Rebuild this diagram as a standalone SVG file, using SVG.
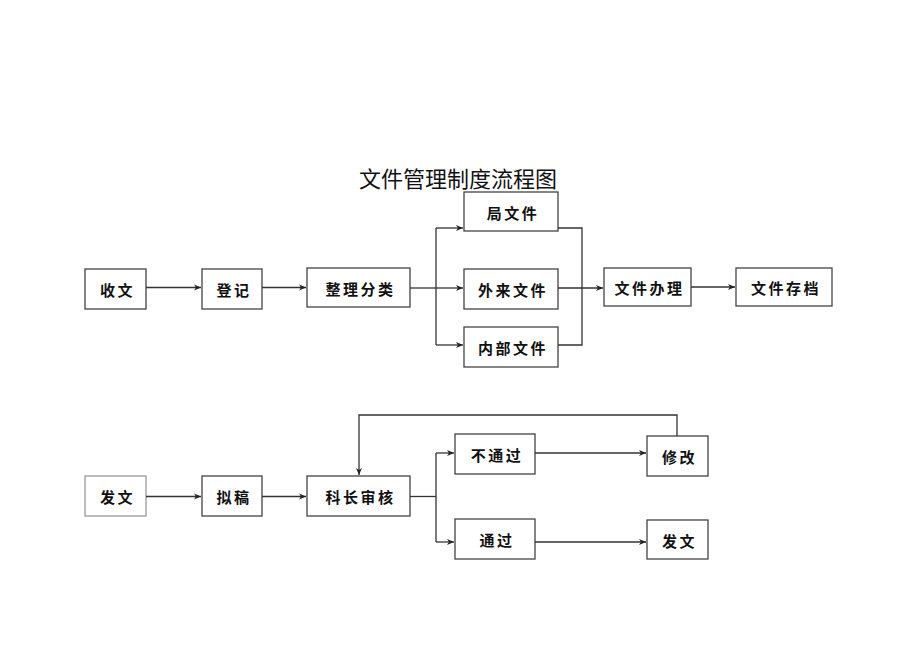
<svg xmlns="http://www.w3.org/2000/svg" width="920" height="651" viewBox="0 0 920 651">
<defs>
<marker id="ah" markerWidth="8" markerHeight="8" refX="7" refY="4" orient="auto" markerUnits="userSpaceOnUse">
<path d="M0,1 L7,4 L0,7 L2,4 Z" fill="#222"/>
</marker>
</defs>
<style>
.box{fill:#fff;stroke:#444;stroke-width:1.3}
.box.light{stroke:#999}
.lbl{font-family:"Noto Sans CJK SC","Noto Sans CJK JP",sans-serif;font-size:15px;font-weight:bold;fill:#111;text-anchor:middle;dominant-baseline:central;letter-spacing:2.5px}
.title{font-family:"Noto Sans CJK SC","Noto Sans CJK JP",sans-serif;font-size:22px;fill:#111;text-anchor:middle;dominant-baseline:central}
.c{fill:none;stroke:#333;stroke-width:1.3}
.a{marker-end:url(#ah)}
</style>
<rect width="920" height="651" fill="#fff"/>
<text class="title" x="458" y="177">文件管理制度流程图</text>

<g id="n-shouwen"><rect class="box" x="85" y="269" width="61" height="40"/><text class="lbl" x="117.5" y="289">收文</text></g>
<g id="n-dengji"><rect class="box" x="202" y="269" width="60" height="40"/><text class="lbl" x="234" y="289">登记</text></g>
<g id="n-zhengli"><rect class="box" x="307" y="268" width="103" height="39"/><text class="lbl" x="360.5" y="288">整理分类</text></g>
<g id="n-ju"><rect class="box" x="464" y="192" width="94" height="39"/><text class="lbl" x="513" y="212">局文件</text></g>
<g id="n-wailai"><rect class="box" x="464" y="269" width="94" height="40"/><text class="lbl" x="513" y="289">外来文件</text></g>
<g id="n-neibu"><rect class="box" x="464" y="327" width="94" height="40"/><text class="lbl" x="513" y="347">内部文件</text></g>
<g id="n-banli"><rect class="box" x="604" y="268" width="87" height="38"/><text class="lbl" x="649.5" y="287">文件办理</text></g>
<g id="n-cundang"><rect class="box" x="736" y="268" width="96" height="38"/><text class="lbl" x="786" y="287">文件存档</text></g>

<g id="n-fawen"><rect class="box light" x="85" y="476" width="61" height="40"/><text class="lbl" x="117.5" y="496">发文</text></g>
<g id="n-nigao"><rect class="box" x="202" y="476" width="60" height="40"/><text class="lbl" x="234" y="496">拟稿</text></g>
<g id="n-kezhang"><rect class="box" x="307" y="476" width="103" height="40"/><text class="lbl" x="360.5" y="496">科长审核</text></g>
<g id="n-butongguo"><rect class="box" x="455" y="434" width="80" height="40"/><text class="lbl" x="497" y="454">不通过</text></g>
<g id="n-tongguo"><rect class="box" x="455" y="519" width="80" height="40"/><text class="lbl" x="497" y="539">通过</text></g>
<g id="n-xiugai"><rect class="box" x="647" y="436" width="61" height="40"/><text class="lbl" x="679.5" y="456">修改</text></g>
<g id="n-fawen2"><rect class="box" x="647" y="520" width="61" height="39"/><text class="lbl" x="679.5" y="540">发文</text></g>

<g id="connectors">
<path class="c a" d="M146,287.5 H201"/>
<path class="c a" d="M262,287.5 H306"/>
<path class="c" d="M410,288 H436"/>
<path class="c" d="M436,228 V345"/>
<path class="c a" d="M436,228 H463"/>
<path class="c a" d="M436,288 H463"/>
<path class="c a" d="M436,345 H463"/>
<path class="c" d="M558,228 H582 V345 H558"/>
<path class="c a" d="M558,288 H603"/>
<path class="c a" d="M691,287 H735"/>

<path class="c a" d="M146,496.5 H201"/>
<path class="c a" d="M262,496.5 H306"/>
<path class="c" d="M410,496.5 H436"/>
<path class="c" d="M436,453 V542"/>
<path class="c a" d="M436,453 H454"/>
<path class="c a" d="M436,542 H454"/>
<path class="c a" d="M535,453 H646"/>
<path class="c a" d="M535,542 H646"/>
<path class="c a" d="M677,436 V415 H359 V475"/>
</g>
</svg>
